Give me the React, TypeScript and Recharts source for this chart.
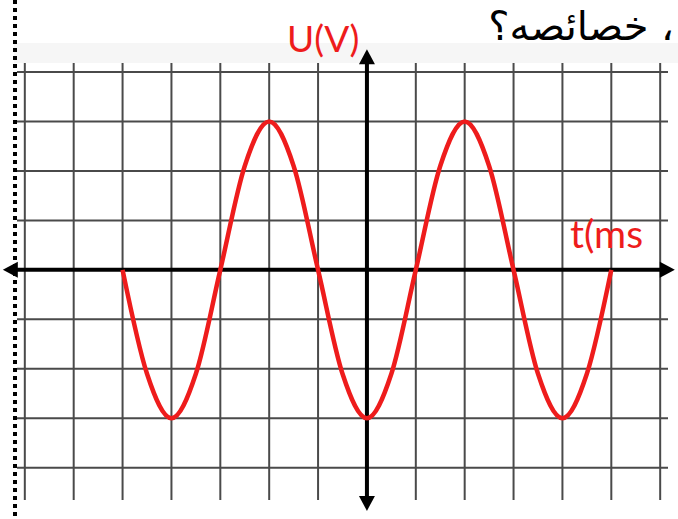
import { LineChart, Line, XAxis, YAxis, ReferenceLine, ReferenceDot } from "recharts";

// time in grid units (origin on the U axis), voltage in grid units
const times = [
  -5, -4.5, -4, -3.5, -3, -2.5, -2, -1.5, -1, -0.5, 0, 0.5, 1, 1.5, 2, 2.5, 3, 3.5, 4, 4.5, 5,
];
const voltages = [
  0, -2.1, -3, -2.1, 0, 2.1, 3, 2.1, 0, -2.1, -3, -2.1, 0, 2.1, 3, 2.1, 0, -2.1, -3, -2.1, 0,
];
const gridX = [-7, -6, -5, -4, -3, -2, -1, 1, 2, 3, 4, 5, 6];
const gridY = [-4, -3, -2, -1, 1, 2, 3, 4];

const data = times.map((t, i) => ({ t, u: voltages[i] }));

const RED = "#ee1c1c";

type Dir = "left" | "right" | "up" | "down";

function arrow(dir: Dir) {
  return (props: any) => {
    const { cx, cy } = props;
    const len = 15;
    const half = 8;
    let pts = "";
    if (dir === "right") pts = `${cx},${cy} ${cx - len},${cy - half} ${cx - len},${cy + half}`;
    if (dir === "left") pts = `${cx},${cy} ${cx + len},${cy - half} ${cx + len},${cy + half}`;
    if (dir === "up") pts = `${cx},${cy} ${cx - half},${cy + len} ${cx + half},${cy + len}`;
    if (dir === "down") pts = `${cx},${cy} ${cx - half},${cy - len} ${cx + half},${cy - len}`;
    return <polygon points={pts} fill="#000" />;
  };
}

export default function App() {
  return (
    <div
      style={{
        position: "absolute",
        left: 0,
        top: 0,
        width: 678,
        height: 519,
        background: "#fff",
        overflow: "hidden",
      }}
    >
      <div
        style={{
          position: "absolute",
          left: 14,
          top: 43,
          width: 664,
          height: 20,
          background: "#f6f6f6",
        }}
      />
      <div
        style={{
          position: "absolute",
          left: 13,
          top: 0,
          width: 4,
          height: 519,
          background: "repeating-linear-gradient(to bottom, #000 0 4px, transparent 4px 8px)",
        }}
      />
      <div style={{ position: "absolute", left: 0, top: 0 }}>
        <LineChart
          width={678}
          height={519}
          data={data}
          margin={{ top: 63, right: 10, bottom: 19, left: 17 }}
        >
          <XAxis type="number" dataKey="t" domain={[-7.16, 6.16]} allowDataOverflow hide />
          <YAxis type="number" domain={[-4.65, 4.18]} allowDataOverflow hide />
          {gridX.map((x) => (
            <ReferenceLine key={`gx${x}`} x={x} stroke="#4a4a4a" strokeWidth={2} />
          ))}
          {gridY.map((y) => (
            <ReferenceLine key={`gy${y}`} y={y} stroke="#4a4a4a" strokeWidth={2} />
          ))}
          <ReferenceLine
            segment={[
              { x: -7.35, y: 0 },
              { x: 6.05, y: 0 },
            ]}
            stroke="#000"
            strokeWidth={4}
            ifOverflow="visible"
          />
          <ReferenceLine
            segment={[
              { x: 0, y: 4.2 },
              { x: 0, y: -4.6 },
            ]}
            stroke="#000"
            strokeWidth={4}
            ifOverflow="visible"
          />
          <ReferenceDot x={6.3} y={0} r={1} ifOverflow="visible" shape={arrow("right")} />
          <ReferenceDot x={-7.45} y={0} r={1} ifOverflow="visible" shape={arrow("left")} />
          <ReferenceDot x={0} y={4.46} r={1} ifOverflow="visible" shape={arrow("up")} />
          <ReferenceDot x={0} y={-4.87} r={1} ifOverflow="visible" shape={arrow("down")} />
          <Line
            type="monotone"
            dataKey="u"
            stroke={RED}
            strokeWidth={4.5}
            dot={false}
            isAnimationActive={false}
          />
        </LineChart>
      </div>
      <div
        style={{
          position: "absolute",
          left: 287,
          top: 16,
          fontFamily: "Lato, 'Open Sans', sans-serif",
          fontSize: 37,
          color: RED,
          lineHeight: "44px",
        }}
      >
        U(V)
      </div>
      <div
        style={{
          position: "absolute",
          left: 570,
          top: 210,
          fontFamily: "Lato, 'Open Sans', sans-serif",
          fontSize: 39,
          color: RED,
          lineHeight: "46px",
        }}
      >
        t(ms
      </div>
      <div
        dir="rtl"
        style={{
          position: "absolute",
          right: 4,
          top: -2,
          fontFamily: "'DejaVu Sans', sans-serif",
          fontSize: 40,
          color: "#000",
          lineHeight: "56px",
        }}
      >
        ، خصائصه؟
      </div>
    </div>
  );
}
